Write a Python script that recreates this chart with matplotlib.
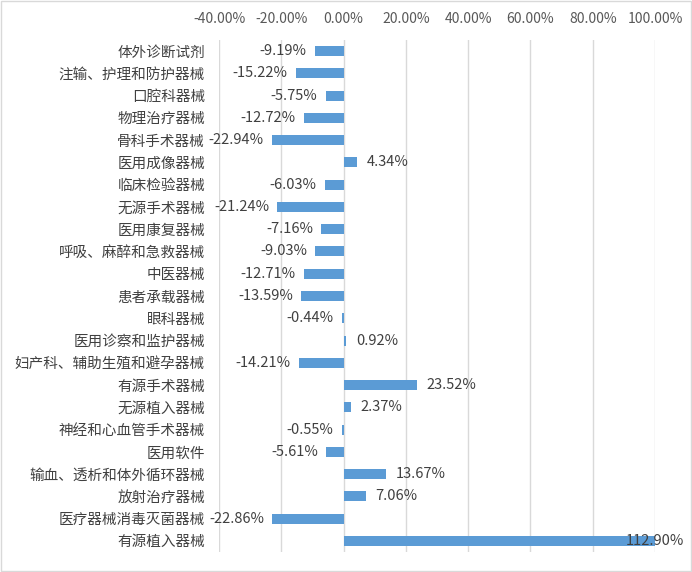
import numpy as np
import matplotlib
matplotlib.use("Agg")
import matplotlib.pyplot as plt
from matplotlib.patches import Rectangle

plt.rcParams['font.family'] = ['Noto Sans CJK SC', 'DejaVu Sans']

# Daten
kategorien = [
    "体外诊断试剂", "注输、护理和防护器械", "口腔科器械", "物理治疗器械",
    "骨科手术器械", "医用成像器械", "临床检验器械", "无源手术器械",
    "医用康复器械", "呼吸、麻醉和急救器械", "中医器械", "患者承载器械",
    "眼科器械", "医用诊察和监护器械", "妇产科、辅助生殖和避孕器械",
    "有源手术器械", "无源植入器械", "神经和心血管手术器械", "医用软件",
    "输血、透析和体外循环器械", "放射治疗器械", "医疗器械消毒灭菌器械",
    "有源植入器械",
]
werte = [
    -9.19, -15.22, -5.75, -12.72, -22.94, 4.34, -6.03, -21.24, -7.16,
    -9.03, -12.71, -13.59, -0.44, 0.92, -14.21, 23.52, 2.37, -0.55,
    -5.61, 13.67, 7.06, -22.86, 112.90,
]
x_ticks = [-40, -20, 0, 20, 40, 60, 80, 100]

fig = plt.figure(figsize=(6.92, 5.72), dpi=100)
ax = fig.add_axes([219 / 692, 1 - 552 / 572, 436 / 692, 512 / 572])

y = np.arange(len(kategorien))
x_min, x_max = -40, 100
balken = np.clip(werte, x_min, x_max)
ax.barh(y, balken, height=0.45, color="#5B9BD5", zorder=3)

ax.set_xlim(x_min, x_max)
ax.set_ylim(len(kategorien) - 0.5, -0.5)
ax.set_xticks(x_ticks)
ax.set_xticklabels([f"{t:.2f}%" for t in x_ticks])
ax.set_yticks(y)
ax.set_yticklabels(kategorien)
ax.xaxis.tick_top()
ax.tick_params(axis="x", length=0, pad=10, labelsize=10, labelcolor="#595959")
ax.tick_params(axis="y", length=0, pad=10, labelsize=10.5, labelcolor="#404040")
ax.grid(axis="x", color="#D9D9D9", linewidth=1, zorder=0)
for s in ax.spines.values():
    s.set_visible(False)

# Datenbeschriftungen
for yi, w in zip(y, werte):
    txt = f"{w:.2f}%"
    if w > x_max:
        ax.text(x_max, yi, txt, ha="center", va="center", fontsize=10.5,
                color="#404040", zorder=4, clip_on=False)
    elif w >= 0:
        ax.annotate(txt, (w, yi), xytext=(7, 0), textcoords="offset points",
                    ha="left", va="center", fontsize=10.5, color="#404040")
    else:
        ax.annotate(txt, (w, yi), xytext=(-6, 0), textcoords="offset points",
                    ha="right", va="center", fontsize=10.5, color="#404040")

# Rahmen um die Grafik
fig.patches.append(Rectangle((0.001, 0.001), 0.997, 0.997, transform=fig.transFigure,
                             fill=False, edgecolor="#D9D9D9", linewidth=1))

plt.savefig("out.png", dpi=100)
